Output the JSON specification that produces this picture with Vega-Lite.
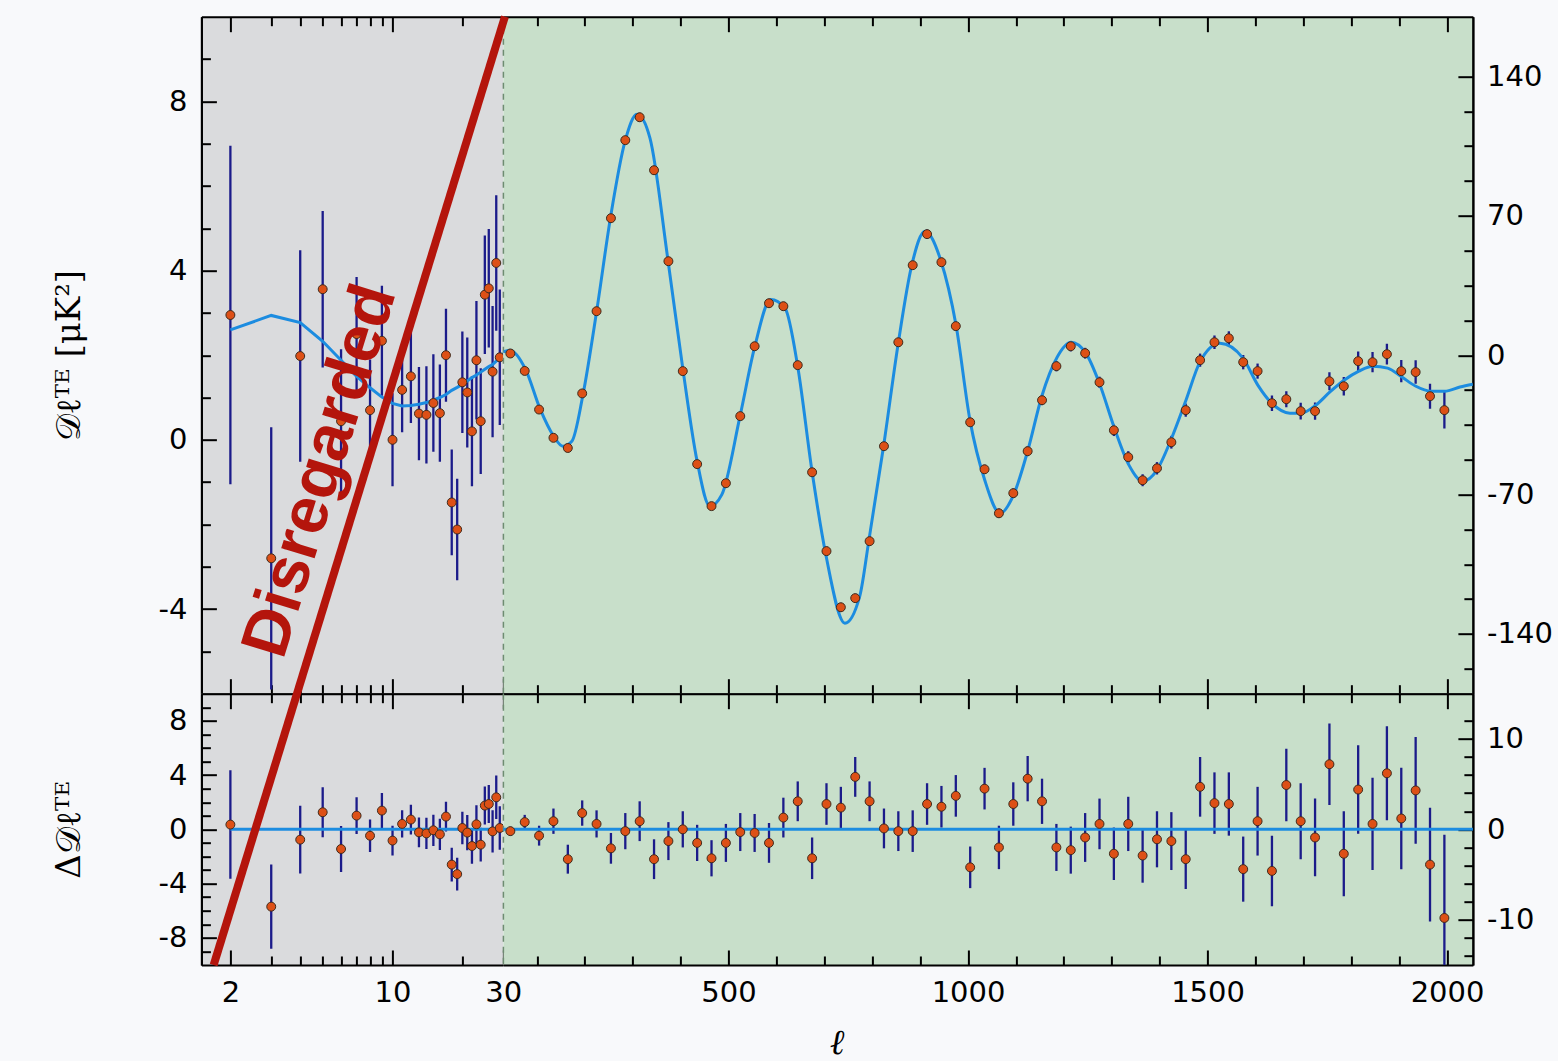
{
  "$schema": "https://vega.github.io/schema/vega-lite/v6.json",
  "background": "#f8f9fb",
  "padding": {"left": 52.4, "top": 11.7, "right": 5, "bottom": 0},
  "config": {
    "view": {"stroke": null},
    "axis": {"domainColor": "black", "domainWidth": 2, "tickColor": "black", "tickWidth": 2, "labelFont": "DejaVu Sans", "labelFontSize": 29, "labelColor": "black", "labelOverlap": false, "labelBound": false, "labelFlush": false, "grid": false}
  },
  "datasets": {
    "one": [{}],
    "low": [
      {"ell": 2, "dte": 2.95, "res": 0.35, "err": 4.0},
      {"ell": 3, "dte": -2.8, "res": -5.7, "err": 3.1},
      {"ell": 4, "dte": 1.98, "res": -0.76, "err": 2.5},
      {"ell": 5, "dte": 3.56, "res": 1.26, "err": 1.85},
      {"ell": 6, "dte": 0.44, "res": -1.45, "err": 1.7},
      {"ell": 7, "dte": 2.5, "res": 1.01, "err": 1.35},
      {"ell": 8, "dte": 0.7, "res": -0.47, "err": 1.2},
      {"ell": 9, "dte": 2.34, "res": 1.38, "err": 1.3},
      {"ell": 10, "dte": 0.0, "res": -0.83, "err": 1.1},
      {"ell": 11, "dte": 1.18, "res": 0.4, "err": 1.0},
      {"ell": 12, "dte": 1.5, "res": 0.72, "err": 1.1},
      {"ell": 13, "dte": 0.62, "res": -0.22, "err": 1.1},
      {"ell": 14, "dte": 0.59, "res": -0.3, "err": 1.15},
      {"ell": 15, "dte": 0.87, "res": -0.07, "err": 1.15},
      {"ell": 16, "dte": 0.63, "res": -0.37, "err": 1.15},
      {"ell": 17, "dte": 2.0, "res": 0.94, "err": 1.1},
      {"ell": 18, "dte": -1.48, "res": -2.6, "err": 1.25},
      {"ell": 19, "dte": -2.12, "res": -3.3, "err": 1.2},
      {"ell": 20, "dte": 1.36, "res": 0.1, "err": 1.2},
      {"ell": 21, "dte": 1.12, "res": -0.24, "err": 1.3},
      {"ell": 22, "dte": 0.2, "res": -1.23, "err": 1.3},
      {"ell": 23, "dte": 1.88, "res": 0.37, "err": 1.4},
      {"ell": 24, "dte": 0.44, "res": -1.13, "err": 1.25},
      {"ell": 25, "dte": 3.43, "res": 1.75, "err": 1.4},
      {"ell": 26, "dte": 3.58, "res": 1.87, "err": 1.4},
      {"ell": 27, "dte": 1.61, "res": -0.15, "err": 1.55},
      {"ell": 28, "dte": 4.18, "res": 2.36, "err": 1.6},
      {"ell": 29, "dte": 1.95, "res": 0.1, "err": 1.6}
    ],
    "lowcurve": [
      {"ell": 2, "dte": 2.6}, {"ell": 3, "dte": 2.94}, {"ell": 4, "dte": 2.77}, {"ell": 5, "dte": 2.33},
      {"ell": 6, "dte": 1.88}, {"ell": 7, "dte": 1.5}, {"ell": 8, "dte": 1.23}, {"ell": 9, "dte": 1.01},
      {"ell": 10, "dte": 0.86}, {"ell": 11, "dte": 0.8}, {"ell": 12, "dte": 0.81}, {"ell": 13, "dte": 0.84},
      {"ell": 14, "dte": 0.88}, {"ell": 15, "dte": 0.94}, {"ell": 16, "dte": 1.0}, {"ell": 17, "dte": 1.07},
      {"ell": 18, "dte": 1.17}, {"ell": 19, "dte": 1.24}, {"ell": 20, "dte": 1.31}, {"ell": 21, "dte": 1.39},
      {"ell": 22, "dte": 1.47}, {"ell": 23, "dte": 1.53}, {"ell": 24, "dte": 1.6}, {"ell": 25, "dte": 1.67},
      {"ell": 26, "dte": 1.73}, {"ell": 27, "dte": 1.78}, {"ell": 28, "dte": 1.86}, {"ell": 29, "dte": 1.93},
      {"ell": 30, "dte": 2.05}
    ],
    "high": [
      {"ell": 44.5, "dte": 0.85, "res": -0.2, "err": 0.5},
      {"ell": 74.5, "dte": -7.9, "res": 0.8, "err": 0.8},
      {"ell": 104.5, "dte": -27.3, "res": -0.7, "err": 1.1},
      {"ell": 134.5, "dte": -41.5, "res": 0.9, "err": 1.4},
      {"ell": 164.5, "dte": -46.6, "res": -3.3, "err": 1.6},
      {"ell": 194.5, "dte": -19.2, "res": 1.8, "err": 1.4},
      {"ell": 224.5, "dte": 22.1, "res": 0.6, "err": 1.5},
      {"ell": 254.5, "dte": 68.8, "res": -2.1, "err": 1.7},
      {"ell": 284.5, "dte": 108.0, "res": -0.2, "err": 2.0},
      {"ell": 314.5, "dte": 119.5, "res": 0.9, "err": 2.2},
      {"ell": 344.5, "dte": 92.9, "res": -3.3, "err": 2.2},
      {"ell": 374.5, "dte": 47.2, "res": -1.3, "err": 2.1},
      {"ell": 404.5, "dte": -8.0, "res": 0.0, "err": 2.0},
      {"ell": 434.5, "dte": -54.7, "res": -1.5, "err": 2.0},
      {"ell": 464.5, "dte": -75.8, "res": -3.2, "err": 2.0},
      {"ell": 494.5, "dte": -64.3, "res": -1.5, "err": 2.1},
      {"ell": 524.5, "dte": -30.6, "res": -0.3, "err": 2.1},
      {"ell": 554.5, "dte": 4.5, "res": -0.4, "err": 2.1},
      {"ell": 584.5, "dte": 26.1, "res": -1.5, "err": 2.2},
      {"ell": 614.5, "dte": 24.6, "res": 1.3, "err": 2.2},
      {"ell": 644.5, "dte": -5.0, "res": 3.1, "err": 2.2},
      {"ell": 674.5, "dte": -58.8, "res": -3.2, "err": 2.3},
      {"ell": 704.5, "dte": -98.4, "res": 2.8, "err": 2.3},
      {"ell": 734.5, "dte": -126.6, "res": 2.4, "err": 2.3},
      {"ell": 764.5, "dte": -122.0, "res": 5.8, "err": 2.2},
      {"ell": 794.5, "dte": -93.4, "res": 3.1, "err": 2.2},
      {"ell": 824.5, "dte": -45.7, "res": 0.1, "err": 2.2},
      {"ell": 854.5, "dte": 6.5, "res": -0.2, "err": 2.2},
      {"ell": 884.5, "dte": 45.2, "res": -0.2, "err": 2.3},
      {"ell": 914.5, "dte": 60.8, "res": 2.8, "err": 2.3},
      {"ell": 944.5, "dte": 46.7, "res": 2.5, "err": 2.3},
      {"ell": 974.5, "dte": 14.6, "res": 3.7, "err": 2.3},
      {"ell": 1004.5, "dte": -33.7, "res": -4.2, "err": 2.3},
      {"ell": 1034.5, "dte": -57.3, "res": 4.5, "err": 2.3},
      {"ell": 1064.5, "dte": -79.4, "res": -2.0, "err": 2.4},
      {"ell": 1094.5, "dte": -69.3, "res": 2.8, "err": 2.4},
      {"ell": 1124.5, "dte": -48.2, "res": 5.6, "err": 2.5},
      {"ell": 1154.5, "dte": -22.6, "res": 3.1, "err": 2.5},
      {"ell": 1184.5, "dte": -5.5, "res": -2.0, "err": 2.6},
      {"ell": 1214.5, "dte": 4.5, "res": -2.3, "err": 2.6},
      {"ell": 1244.5, "dte": 1.0, "res": -0.9, "err": 2.7},
      {"ell": 1274.5, "dte": -13.6, "res": 0.6, "err": 2.8},
      {"ell": 1304.5, "dte": -37.7, "res": -2.7, "err": 2.9},
      {"ell": 1334.5, "dte": -51.2, "res": 0.6, "err": 3.0},
      {"ell": 1364.5, "dte": -62.8, "res": -2.9, "err": 3.0},
      {"ell": 1394.5, "dte": -56.8, "res": -1.1, "err": 3.1},
      {"ell": 1424.5, "dte": -43.7, "res": -1.3, "err": 3.2},
      {"ell": 1454.5, "dte": -27.6, "res": -3.3, "err": 3.3},
      {"ell": 1484.5, "dte": -2.5, "res": 4.7, "err": 3.3},
      {"ell": 1514.5, "dte": 6.5, "res": 2.9, "err": 3.4},
      {"ell": 1544.5, "dte": 8.5, "res": 2.8, "err": 3.5},
      {"ell": 1574.5, "dte": -3.5, "res": -4.4, "err": 3.6},
      {"ell": 1604.5, "dte": -8.0, "res": 0.9, "err": 3.8},
      {"ell": 1634.5, "dte": -24.1, "res": -4.6, "err": 3.9},
      {"ell": 1664.5, "dte": -22.1, "res": 4.9, "err": 4.0},
      {"ell": 1694.5, "dte": -28.1, "res": 0.9, "err": 4.2},
      {"ell": 1724.5, "dte": -28.1, "res": -0.9, "err": 4.3},
      {"ell": 1754.5, "dte": -13.1, "res": 7.2, "err": 4.5},
      {"ell": 1784.5, "dte": -15.6, "res": -2.7, "err": 4.7},
      {"ell": 1814.5, "dte": -3.0, "res": 4.4, "err": 4.9},
      {"ell": 1844.5, "dte": -3.5, "res": 0.6, "err": 5.1},
      {"ell": 1874.5, "dte": 0.5, "res": 6.2, "err": 5.2},
      {"ell": 1904.5, "dte": -8.0, "res": 1.2, "err": 5.6},
      {"ell": 1934.5, "dte": -8.5, "res": 4.3, "err": 5.9},
      {"ell": 1964.5, "dte": -20.6, "res": -3.9, "err": 6.3},
      {"ell": 1994.5, "dte": -27.6, "res": -9.8, "err": 9.2}
    ],
    "highcurve": [
      {"ell": 30, "dte": 1.7}, {"ell": 43.6, "dte": 2.5}, {"ell": 77, "dte": -7.5}, {"ell": 106, "dte": -26.6},
      {"ell": 135, "dte": -40.7}, {"ell": 154, "dte": -45.7}, {"ell": 173, "dte": -43.2}, {"ell": 196, "dte": -20},
      {"ell": 225, "dte": 22.6}, {"ell": 254, "dte": 69.8}, {"ell": 284, "dte": 107.5}, {"ell": 309, "dte": 121},
      {"ell": 336, "dte": 109}, {"ell": 373, "dte": 48.7}, {"ell": 405, "dte": -7.5}, {"ell": 434, "dte": -52.7},
      {"ell": 461, "dte": -75.8}, {"ell": 486, "dte": -70}, {"ell": 524, "dte": -30.6}, {"ell": 555, "dte": 4.5},
      {"ell": 588, "dte": 28}, {"ell": 618, "dte": 23.6}, {"ell": 645, "dte": -6.5}, {"ell": 674, "dte": -57.8},
      {"ell": 703, "dte": -100}, {"ell": 743, "dte": -134.6}, {"ell": 774, "dte": -121}, {"ell": 793, "dte": -93},
      {"ell": 824, "dte": -45.2}, {"ell": 854, "dte": 5.5}, {"ell": 883, "dte": 45.7}, {"ell": 910, "dte": 62.3},
      {"ell": 943, "dte": 47.7}, {"ell": 975, "dte": 15}, {"ell": 1004, "dte": -32.6}, {"ell": 1035, "dte": -62.8},
      {"ell": 1067, "dte": -79.4}, {"ell": 1094, "dte": -70.8}, {"ell": 1125, "dte": -47.7}, {"ell": 1154, "dte": -20.6},
      {"ell": 1186, "dte": -1}, {"ell": 1215, "dte": 6.5}, {"ell": 1246, "dte": 1}, {"ell": 1275, "dte": -14.6},
      {"ell": 1305, "dte": -36.2}, {"ell": 1336, "dte": -55.2}, {"ell": 1365, "dte": -63.3}, {"ell": 1394, "dte": -57.8},
      {"ell": 1425, "dte": -41.7}, {"ell": 1455, "dte": -22.6}, {"ell": 1484, "dte": -3.5}, {"ell": 1526, "dte": 6},
      {"ell": 1574, "dte": -1.5}, {"ell": 1605, "dte": -15}, {"ell": 1634, "dte": -24.1}, {"ell": 1672, "dte": -29.1},
      {"ell": 1695, "dte": -29.1}, {"ell": 1726, "dte": -25.1}, {"ell": 1755, "dte": -18.6}, {"ell": 1785, "dte": -12.6},
      {"ell": 1816, "dte": -8}, {"ell": 1845, "dte": -5.5}, {"ell": 1876, "dte": -6.5}, {"ell": 1906, "dte": -11},
      {"ell": 1935, "dte": -15.6}, {"ell": 1966, "dte": -18.1}, {"ell": 1995, "dte": -18.1}, {"ell": 2027, "dte": -16},
      {"ell": 2054, "dte": -14.6}
    ]
  },
  "columns": 2,
  "spacing": 0,
  "bounds": "flush",
  "concat": [
    {
      "width": 301.8,
      "height": 677,
      "view": {"fill": "#dadbdd", "stroke": null},
      "layer": [
        {
          "data": {"name": "low"},
          "mark": {"type": "errorbar", "color": "#1b1b8a", "thickness": 2.3, "clip": true},
          "encoding": {
            "x": {"field": "ell", "type": "quantitative", "scale": {"type": "log", "domain": [1.5, 30], "nice": false},
              "axis": {"orient": "bottom", "values": [2, 3, 4, 5, 6, 7, 8, 9, 10, 20, 30], "labels": false, "title": null,
                "tickSize": {"condition": {"test": "datum.value === 2 || datum.value === 10 || datum.value === 30", "value": -15}, "value": -9}}},
            "y": {"field": "dte", "type": "quantitative", "scale": {"domain": [-6, 10], "nice": false, "zero": false},
              "axis": {"orient": "left", "values": [-4, 0, 4, 8], "tickSize": -15,
                "labelExpr": "'' + datum.value", "labelPadding": 29.4,
                "title": "𝒟ℓᵀᴱ [μK²]", "titleFont": "DejaVu Serif", "titleFontSize": 34, "titleFontWeight": "normal", "titleColor": "black",
                "titleAngle": -90, "titleX": -121.7, "titleY": 338.5, "titleAlign": "center", "titleBaseline": "alphabetic"}},
            "yError": {"field": "err"}
          }
        },
        {
          "data": {"name": "lowcurve"},
          "mark": {"type": "line", "color": "#1c8ce0", "strokeWidth": 3, "clip": true},
          "encoding": {
            "x": {"field": "ell", "type": "quantitative", "scale": {"type": "log", "domain": [1.5, 30], "nice": false}, "axis": null},
            "y": {"field": "dte", "type": "quantitative", "scale": {"domain": [-6, 10], "nice": false, "zero": false},
              "axis": {"orient": "left", "values": [-5, -3, -2, -1, 1, 2, 3, 5, 6, 7, 9], "tickSize": -9, "labels": false, "title": null}}
          }
        },
        {
          "data": {"name": "low"},
          "mark": {"type": "circle", "size": 80, "fill": "#dd5016", "stroke": "#3e2a1c", "strokeWidth": 1, "opacity": 1, "clip": true},
          "encoding": {
            "x": {"field": "ell", "type": "quantitative", "scale": {"type": "log", "domain": [1.5, 30], "nice": false},
              "axis": {"orient": "top", "values": [2, 3, 4, 5, 6, 7, 8, 9, 10, 20, 30], "labels": false, "title": null,
                "tickSize": {"condition": {"test": "datum.value === 2 || datum.value === 10 || datum.value === 30", "value": -15}, "value": -9}}},
            "y": {"field": "dte", "type": "quantitative", "scale": {"domain": [-6, 10], "nice": false, "zero": false}, "axis": null}
          }
        }
      ],
      "resolve": {"axis": {"x": "independent", "y": "independent"}}
    },
    {
      "width": 969.5,
      "height": 677,
      "view": {"fill": "#c8dfca", "stroke": null},
      "layer": [
        {
          "data": {"name": "high"},
          "mark": {"type": "errorbar", "color": "#1b1b8a", "thickness": 2.3, "clip": true},
          "encoding": {
            "x": {"field": "ell", "type": "quantitative", "scale": {"domain": [30, 2054], "nice": false, "zero": false},
              "axis": {"orient": "bottom", "values": [100, 200, 300, 400, 500, 600, 700, 800, 900, 1000, 1100, 1200, 1300, 1400, 1500, 1600, 1700, 1800, 1900, 2000], "labels": false, "title": null,
                "tickSize": {"condition": {"test": "datum.value % 500 === 0", "value": -15}, "value": -9}}},
            "y": {"field": "dte", "type": "quantitative", "scale": {"domain": [-170, 170], "nice": false, "zero": false},
              "axis": {"orient": "right", "values": [-140, -70, 0, 70, 140], "tickSize": -15,
                "labelExpr": "'' + datum.value", "labelPadding": 28.7, "title": null}},
            "yError": {"field": "err"}
          }
        },
        {
          "data": {"name": "one"},
          "mark": {"type": "rule", "color": "#6e8c71", "strokeWidth": 1.5, "strokeDash": [6, 5]},
          "encoding": {
            "x": {"datum": 30, "type": "quantitative", "scale": {"domain": [30, 2054], "nice": false, "zero": false}, "axis": null}
          }
        },
        {
          "data": {"name": "highcurve"},
          "mark": {"type": "line", "color": "#1c8ce0", "strokeWidth": 3, "interpolate": "monotone", "clip": true},
          "encoding": {
            "x": {"field": "ell", "type": "quantitative", "scale": {"domain": [30, 2054], "nice": false, "zero": false}, "axis": null},
            "y": {"field": "dte", "type": "quantitative", "scale": {"domain": [-170, 170], "nice": false, "zero": false},
              "axis": {"orient": "right", "values": [-157.5, -122.5, -105, -87.5, -52.5, -35, -17.5, 17.5, 35, 52.5, 87.5, 105, 122.5], "tickSize": -9, "labels": false, "title": null}}
          }
        },
        {
          "data": {"name": "high"},
          "mark": {"type": "circle", "size": 80, "fill": "#dd5016", "stroke": "#3e2a1c", "strokeWidth": 1, "opacity": 1, "clip": true},
          "encoding": {
            "x": {"field": "ell", "type": "quantitative", "scale": {"domain": [30, 2054], "nice": false, "zero": false},
              "axis": {"orient": "top", "values": [100, 200, 300, 400, 500, 600, 700, 800, 900, 1000, 1100, 1200, 1300, 1400, 1500, 1600, 1700, 1800, 1900, 2000], "labels": false, "title": null,
                "tickSize": {"condition": {"test": "datum.value % 500 === 0", "value": -15}, "value": -9}}},
            "y": {"field": "dte", "type": "quantitative", "scale": {"domain": [-170, 170], "nice": false, "zero": false}, "axis": null}
          }
        }
      ],
      "resolve": {"axis": {"x": "independent", "y": "independent"}}
    },
    {
      "width": 301.8,
      "height": 271.3,
      "view": {"fill": "#dadbdd", "stroke": null},
      "layer": [
        {
          "data": {"name": "low"},
          "mark": {"type": "errorbar", "color": "#1b1b8a", "thickness": 2.3, "clip": true},
          "encoding": {
            "x": {"field": "ell", "type": "quantitative", "scale": {"type": "log", "domain": [1.5, 30], "nice": false},
              "axis": {"orient": "bottom", "values": [2, 3, 4, 5, 6, 7, 8, 9, 10, 20, 30], "title": null, "labelPadding": 29,
                "labelExpr": "datum.value === 2 || datum.value === 10 || datum.value === 30 ? '' + datum.value : ''",
                "tickSize": {"condition": {"test": "datum.value === 2 || datum.value === 10 || datum.value === 30", "value": -15}, "value": -9}}},
            "y": {"field": "res", "type": "quantitative", "scale": {"domain": [-10, 10], "nice": false, "zero": false},
              "axis": {"orient": "left", "values": [-8, -4, 0, 4, 8], "tickSize": -15,
                "labelExpr": "'' + datum.value", "labelPadding": 29.4,
                "title": "Δ𝒟ℓᵀᴱ", "titleFont": "DejaVu Serif", "titleFontSize": 34, "titleFontWeight": "normal", "titleColor": "black",
                "titleAngle": -90, "titleX": -121.7, "titleY": 135.65, "titleAlign": "center", "titleBaseline": "alphabetic"}},
            "yError": {"field": "err"}
          }
        },
        {
          "data": {"name": "one"},
          "mark": {"type": "rule", "color": "#1c8ce0", "strokeWidth": 3},
          "encoding": {
            "x": {"datum": 2, "type": "quantitative", "scale": {"type": "log", "domain": [1.5, 30], "nice": false}, "axis": null},
            "x2": {"datum": 30},
            "y": {"datum": 0, "type": "quantitative", "scale": {"domain": [-10, 10], "nice": false, "zero": false},
              "axis": {"orient": "left", "values": [-9, -7, -6, -5, -3, -2, -1, 1, 2, 3, 5, 6, 7, 9], "tickSize": -9, "labels": false, "title": null}}
          }
        },
        {
          "data": {"name": "low"},
          "mark": {"type": "circle", "size": 80, "fill": "#dd5016", "stroke": "#3e2a1c", "strokeWidth": 1, "opacity": 1, "clip": true},
          "encoding": {
            "x": {"field": "ell", "type": "quantitative", "scale": {"type": "log", "domain": [1.5, 30], "nice": false},
              "axis": {"orient": "top", "values": [2, 3, 4, 5, 6, 7, 8, 9, 10, 20, 30], "labels": false, "title": null,
                "tickSize": {"condition": {"test": "datum.value === 2 || datum.value === 10 || datum.value === 30", "value": -15}, "value": -9}}},
            "y": {"field": "res", "type": "quantitative", "scale": {"domain": [-10, 10], "nice": false, "zero": false}, "axis": null}
          }
        },
        {
          "data": {"name": "one"},
          "mark": {"type": "rule", "color": "#b4150c", "strokeWidth": 8, "strokeCap": "butt", "clip": false},
          "encoding": {
            "x": {"datum": 1.694, "type": "quantitative", "scale": {"type": "log", "domain": [1.5, 30], "nice": false}, "axis": null},
            "x2": {"datum": 30.52},
            "y": {"datum": -10, "type": "quantitative", "scale": {"domain": [-10, 10], "nice": false, "zero": false}, "axis": null},
            "y2": {"datum": 59.91}
          }
        },
        {
          "data": {"name": "one"},
          "mark": {"type": "text", "text": "Disregarded", "angle": -72.9, "font": "Liberation Sans", "fontSize": 66, "fontWeight": "bold", "color": "#b4150c", "align": "center", "baseline": "middle", "clip": false},
          "encoding": {
            "x": {"datum": 4.89, "type": "quantitative", "scale": {"type": "log", "domain": [1.5, 30], "nice": false}, "axis": null},
            "y": {"datum": 26.42, "type": "quantitative", "scale": {"domain": [-10, 10], "nice": false, "zero": false}, "axis": null}
          }
        }
      ],
      "resolve": {"axis": {"x": "independent", "y": "independent"}}
    },
    {
      "width": 969.5,
      "height": 271.3,
      "view": {"fill": "#c8dfca", "stroke": null},
      "layer": [
        {
          "data": {"name": "high"},
          "mark": {"type": "errorbar", "color": "#1b1b8a", "thickness": 2.3, "clip": true},
          "encoding": {
            "x": {"field": "ell", "type": "quantitative", "scale": {"domain": [30, 2054], "nice": false, "zero": false},
              "axis": {"orient": "bottom", "values": [100, 200, 300, 400, 500, 600, 700, 800, 900, 1000, 1100, 1200, 1300, 1400, 1500, 1600, 1700, 1800, 1900, 2000], "labelPadding": 29,
                "labelExpr": "datum.value % 500 === 0 ? '' + datum.value : ''",
                "tickSize": {"condition": {"test": "datum.value % 500 === 0", "value": -15}, "value": -9},
                "title": "ℓ", "titleFont": "DejaVu Serif", "titleFontStyle": "italic", "titleFontWeight": "normal", "titleFontSize": 35, "titleColor": "black",
                "titleX": 333.5, "titleY": 96, "titleAlign": "center", "titleBaseline": "bottom"}},
            "y": {"field": "res", "type": "quantitative", "scale": {"domain": [-15, 15], "nice": false, "zero": false},
              "axis": {"orient": "right", "values": [-10, 0, 10], "tickSize": -15,
                "labelExpr": "'' + datum.value", "labelPadding": 28.7, "title": null}},
            "yError": {"field": "err"}
          }
        },
        {
          "data": {"name": "one"},
          "mark": {"type": "rule", "color": "#6e8c71", "strokeWidth": 1.5, "strokeDash": [6, 5]},
          "encoding": {
            "x": {"datum": 30, "type": "quantitative", "scale": {"domain": [30, 2054], "nice": false, "zero": false}, "axis": null}
          }
        },
        {
          "data": {"name": "one"},
          "mark": {"type": "rule", "color": "#1c8ce0", "strokeWidth": 3},
          "encoding": {
            "y": {"datum": 0, "type": "quantitative", "scale": {"domain": [-15, 15], "nice": false, "zero": false},
              "axis": {"orient": "right", "values": [-14, -12, -8, -6, -4, -2, 2, 4, 6, 8, 12], "tickSize": -9, "labels": false, "title": null}}
          }
        },
        {
          "data": {"name": "high"},
          "mark": {"type": "circle", "size": 80, "fill": "#dd5016", "stroke": "#3e2a1c", "strokeWidth": 1, "opacity": 1, "clip": true},
          "encoding": {
            "x": {"field": "ell", "type": "quantitative", "scale": {"domain": [30, 2054], "nice": false, "zero": false},
              "axis": {"orient": "top", "values": [100, 200, 300, 400, 500, 600, 700, 800, 900, 1000, 1100, 1200, 1300, 1400, 1500, 1600, 1700, 1800, 1900, 2000], "labels": false, "title": null,
                "tickSize": {"condition": {"test": "datum.value % 500 === 0", "value": -15}, "value": -9}}},
            "y": {"field": "res", "type": "quantitative", "scale": {"domain": [-15, 15], "nice": false, "zero": false}, "axis": null}
          }
        }
      ],
      "resolve": {"axis": {"x": "independent", "y": "independent"}}
    }
  ]
}
